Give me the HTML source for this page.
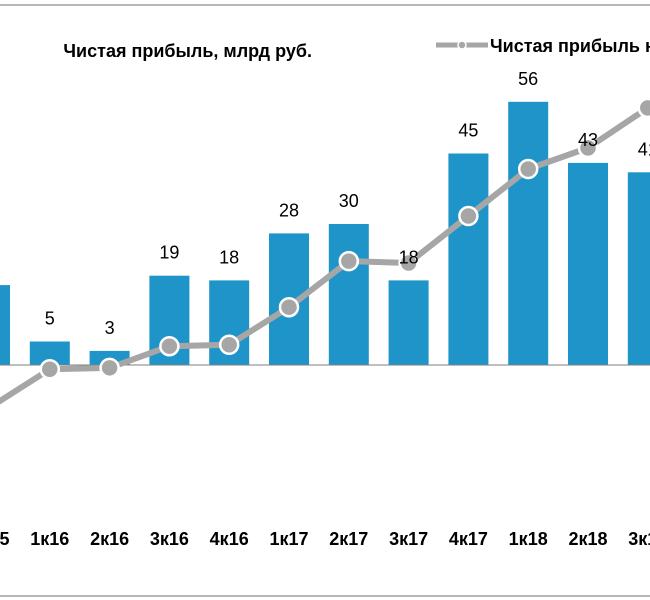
<!DOCTYPE html>
<html><head><meta charset="utf-8"><style>
html,body{margin:0;padding:0;background:#fff;}
svg{display:block;font-family:"Liberation Sans",Arial,sans-serif;}
</style></head><body>
<svg id="chart" width="650" height="600" viewBox="0 0 650 600">
<line x1="0" y1="5" x2="650" y2="5" stroke="#a0a0a0" stroke-width="1.5"/>
<line x1="0" y1="596" x2="650" y2="596" stroke="#a0a0a0" stroke-width="1.5"/>
<text x="312" y="57" text-anchor="end" font-size="18" font-weight="bold" fill="#000">Чистая прибыль, млрд руб.</text>
<g>
<line x1="436" y1="45" x2="488" y2="45" stroke="#a6a6a6" stroke-width="5"/>
<circle cx="462" cy="45" r="4" fill="#a6a6a6" stroke="#fff" stroke-width="1.5"/>
<text x="490" y="52" font-size="18" font-weight="bold" fill="#000">Чистая прибыль нарастающим итогом</text>
</g>
<g id="bars"></g>
<line x1="0" y1="365" x2="650" y2="365" stroke="#7f7f7f" stroke-width="1"/>
<g id="line"></g>
<g id="labels"></g>
</svg>
<script>
const categories=["4к15","1к16","2к16","3к16","4к16","1к17","2к17","3к17","4к17","1к18","2к18","3к18"];
const barValues=[17,5,3,19,18,28,30,18,45,56,43,41];
const lineValues=[-9,-0.9,-0.6,4,4.3,12.3,22.1,21.7,31.7,41.7,46.2,54.7];
const NS="http://www.w3.org/2000/svg";
const x0=-10, step=59.8, base=365, k=4.7, bw=40;
const xS=i=>x0+i*step;
const yS=v=>base-v*k;
function mk(t,a,p){const e=document.createElementNS(NS,t);for(const q in a)e.setAttribute(q,a[q]);p.appendChild(e);return e;}
const gb=document.getElementById('bars'),gl=document.getElementById('line'),gt=document.getElementById('labels');
barValues.forEach((v,i)=>{
 const r=mk('rect',{x:xS(i)-bw/2,y:Math.min(yS(v),base),width:bw,height:Math.abs(v*k),fill:'#1f94c9'},gb);
 
 
 const t=mk('text',{x:xS(i),y:yS(v)-17,'text-anchor':'middle','font-size':'18',fill:'#000'},gt);
 t.textContent=v;
 
 
 const c=mk('text',{x:xS(i),y:545,'text-anchor':'middle','font-size':'18','font-weight':'bold',fill:'#000'},gt);
 c.textContent=categories[i];
 
 
});
const pts=lineValues.map((v,i)=>xS(i)+','+yS(v)).join(' ');
const pl=mk('polyline',{points:pts,fill:'none',stroke:'#a6a6a6','stroke-width':'6','stroke-linejoin':'round'},gl);


lineValues.forEach((v,i)=>{
 const c=mk('circle',{cx:xS(i),cy:yS(v),r:'9',fill:'#a6a6a6',stroke:'#fff','stroke-width':'2.5'},gl);
 
 
});
</script>
</body></html>
